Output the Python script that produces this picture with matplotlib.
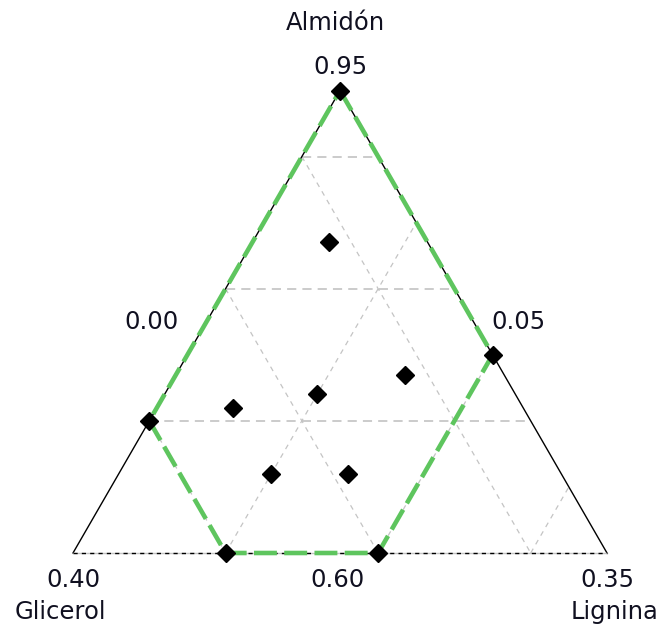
import numpy as np
import matplotlib.pyplot as plt

# componentes reales (Almidón, Glicerol, Lignina)
comp = ['Almidón', 'Glicerol', 'Lignina']
low = [0.60, 0.05, 0.00]        # límites inferiores
span = 0.35                      # 1 - suma de límites inferiores

# vértices de la región experimental (contorno verde)
region_A = [0.95, 0.75, 0.60, 0.60, 0.70, 0.95]
region_G = [0.05, 0.05, 0.20, 0.30, 0.30, 0.05]
region_L = [0.00, 0.20, 0.20, 0.10, 0.00, 0.00]

# puntos del diseño
pts_A = [0.95, 0.75, 0.60, 0.60, 0.70, 0.72, 0.835, 0.735, 0.66, 0.66, 0.71]
pts_G = [0.05, 0.05, 0.20, 0.30, 0.30, 0.18, 0.115, 0.115, 0.19, 0.24, 0.24]
pts_L = [0.00, 0.20, 0.20, 0.10, 0.00, 0.10, 0.05, 0.15, 0.15, 0.10, 0.05]

# líneas de rejilla (valores reales)
grid_A = [0.70, 0.80, 0.90]
grid_G = [0.10, 0.20, 0.30]
grid_L = [0.10, 0.20, 0.30]

h = np.sqrt(3) / 2


def xy(A, G, L):
    a = (np.asarray(A) - low[0]) / span
    l = (np.asarray(L) - low[2]) / span
    return l + a / 2, a * h


fig = plt.figure(figsize=(6.65, 6.28), dpi=100)
ax = fig.add_axes([0, 0, 1, 1])
ax.set_xlim(-73 / 534, 592 / 534)
ax.set_ylim(-75 / 534, 553 / 534)
ax.axis('off')

gc = '#c4c4c4'
for v in grid_A:
    a = (v - low[0]) / span
    ax.plot([a / 2, 1 - a / 2], [a * h, a * h], color='#bdbdbd', lw=1.1, ls=(0, (6, 4)), zorder=1)
for v in grid_G:
    g = (v - low[1]) / span
    # desde el lado izquierdo (L=0) hasta la base (A=0)
    ax.plot([(1 - g) / 2, 1 - g], [(1 - g) * h, 0], color=gc, lw=0.9, ls=(0, (4, 4)), zorder=1)
for v in grid_L:
    l = (v - low[2]) / span
    ax.plot([l, l + (1 - l) / 2], [0, (1 - l) * h], color=gc, lw=0.9, ls=(0, (4, 4)), zorder=1)

# triángulo
ax.plot([0, 0.5, 1], [0, h, 0], color='black', lw=1, zorder=2)
ax.plot([0, 1], [0, 0], color=gc, lw=1, zorder=2)
ax.plot([0, 1], [0, 0], color='black', lw=1, ls=(0, (3, 3)), zorder=2)

rx, ry = xy(region_A, region_G, region_L)
ax.plot(rx, ry, color='#5ec55e', lw=3.3, ls=(0, (5, 1.6)), zorder=3)

px, py = xy(pts_A, pts_G, pts_L)
ax.plot(px, py, 'kD', ms=9.5, ls='none', zorder=4)

tc = '#101020'
fs = 17.5
pt = 0.72


def lab(s, x, y, dx, dy):
    ax.annotate(s, (x, y), xytext=(dx * pt, dy * pt), textcoords='offset points',
                ha='center', va='center', fontsize=fs, color=tc)


lab('0.95', 0.5, h, 0, 24)
lab(comp[0], 0.5, h, -5, 68)
lab('0.40', 0, 0, 0, -27)
lab(comp[1], 0, 0, -13, -59)
lab('0.35', 1, 0, 0, -27)
lab(comp[2], 1, 0, 8, -59)
lab('0.60', 0.5, 0, -2, -27)
lab('0.00', 0.25, h / 2, -55, 0)
lab('0.05', 0.75, h / 2, 45, 0)

fig.savefig('out.png', dpi=100)
